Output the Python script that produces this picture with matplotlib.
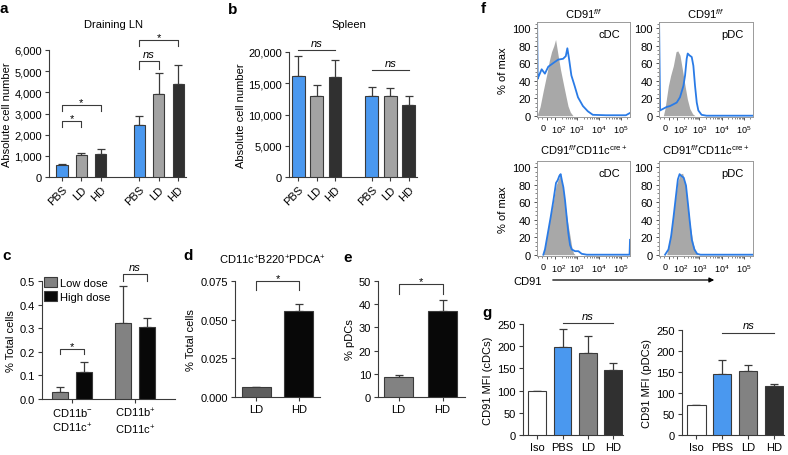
### Import ####

import numpy as np
import matplotlib.pyplot as plt
from matplotlib.ticker import AutoMinorLocator, FixedLocator, NullFormatter
from matplotlib.transforms import ScaledTranslation

plt.rcParams['font.family'] = ['Liberation Sans', 'DejaVu Sans']
plt.rcParams['font.size'] = 8
plt.rcParams['mathtext.fontset'] = 'custom'
plt.rcParams['mathtext.rm'] = 'Liberation Sans'
plt.rcParams['mathtext.it'] = 'Liberation Sans:italic'
plt.rcParams['mathtext.bf'] = 'Liberation Sans:bold'

### Data ###

# a : draining LN
a_labels = ['PBS', 'LD', 'HD', 'PBS', 'LD', 'HD']
a_means = [560, 1020, 1110, 2450, 3900, 4380]
a_errs = [60, 120, 220, 430, 1000, 900]

# b : spleen
b_labels = ['PBS', 'LD', 'HD', 'PBS', 'LD', 'HD']
b_means = [16200, 13000, 16000, 13000, 13000, 11500]
b_errs = [3100, 1750, 2650, 1450, 1200, 1500]

# c : low vs high dose
c_groups = ['CD11b$^{-}$\nCD11c$^{+}$', 'CD11b$^{+}$\nCD11c$^{+}$']
c_low = [0.031, 0.322]
c_low_err = [0.018, 0.155]
c_high = [0.113, 0.305]
c_high_err = [0.045, 0.04]

# d : CD11c+B220+PDCA+
d_labels = ['LD', 'HD']
d_means = [0.0063, 0.0553]
d_errs = [0.0003, 0.005]

# e : % pDCs
e_labels = ['LD', 'HD']
e_means = [8.6, 37.0]
e_errs = [0.8, 5.0]

# f : histograms (CD91 intensity, % of max)
tl_gray_x = [-105, -77, -40, 8, 30, 58, 85, 105, 137, 175, 231, 307, 388, 495, 660]
tl_gray_y = [2, 10, 28, 50, 62, 73, 80, 87, 69, 53, 38, 23, 11, 4, 0]
tl_blue_x = [-112, -111, -104, -97, -58, -20, 20, 77, 137, 231, 307, 362, 432, 552, 778,
             1107, 1862, 3126, 5260, 21130, 170000, 257000]
tl_blue_y = [0, 110, 42, 44, 53, 48, 56, 60, 64, 65, 68, 77, 65, 46, 34, 21, 11, 5, 1, 0.5, 0.5, 3]

tr_gray_x = [-62, -43, -4, 23, 54, 85, 105, 132, 169, 224, 284, 368, 495, 632]
tr_gray_y = [0, 8, 34, 46, 57, 73, 74, 69, 53, 34, 19, 8, 2, 0]
tr_blue_x = [-112, -111, -100, -62, -23, 15, 54, 93, 132, 188, 224, 265, 295, 351, 448, 531,
             632, 755, 891, 1247, 2084, 195000, 262000]
tr_blue_y = [0, 108, 6, 8, 10, 11, 13, 15, 21, 34, 46, 65, 71, 69, 67, 57, 34, 15, 6, 1, 0, 0, 0]

bl_gray_x = [-38, 1, 33, 60, 87, 110, 140, 167, 199, 284, 362, 481, 574, 685, 817]
bl_gray_y = [0, 21, 39, 51, 65, 79, 86, 90, 84, 58, 39, 21, 9, 2, 0]
bl_blue_x = [-38, -19, 21, 48, 80, 110, 131, 156, 179, 207, 238, 284, 338, 404, 481, 574,
             817, 1151, 1637, 2780, 250000, 262000]
bl_blue_y = [0, 6, 28, 43, 62, 82, 85, 90, 92, 84, 77, 62, 43, 24, 11, 6, 4, 4, 1, 0, 0, 17]

br_gray_x = [-23, 17, 44, 75, 106, 136, 174, 231, 295, 388, 515, 659, 841]
br_gray_y = [0, 21, 39, 62, 84, 92, 93, 80, 58, 32, 13, 4, 0]
br_blue_x = [-42, -3, 28, 56, 83, 106, 127, 151, 194, 247, 303, 362, 452, 592, 785, 1117,
             215000, 262000]
br_blue_y = [0, 6, 21, 43, 66, 86, 92, 90, 88, 79, 58, 39, 17, 6, 1, 0, 0, 0]

# g : CD91 MFI
g_labels = ['Iso', 'PBS', 'LD', 'HD']
g_cdc = [100, 199, 184, 146]
g_cdc_err = [0, 40, 40, 17]
g_pdc = [72, 146, 153, 116]
g_pdc_err = [0, 32, 14, 5]

### Style ###

W, H = 788, 456
BLUE = '#4a98ef'
LIGHT = '#a3a3a3'
MID = '#828282'
DARK = '#303030'
BLACK = '#080808'
EDGE = '#3a3a3a'
FLOW_BLUE = '#2a7be6'
FLOW_GRAY = '#a8a8a8'


def px_axes(fig, x0, y0, x1, y1):
    """Add an axes from a pixel box (top-left origin)"""
    return fig.add_axes([x0 / W, 1 - y1 / H, (x1 - x0) / W, (y1 - y0) / H])


def fig_text(fig, x, y, s, **kw):
    fig.text(x / W, 1 - y / H, s, **kw)


def bar_style(ax):
    for s in ['top', 'right']:
        ax.spines[s].set_visible(False)
    for s in ['left', 'bottom']:
        ax.spines[s].set_color(EDGE)
        ax.spines[s].set_linewidth(0.8)
    ax.tick_params(direction='out', length=3, width=0.8, color=EDGE, pad=2)


def bars(ax, x, h, err, colors, width):
    ax.bar(x, h, width, color=colors, edgecolor=EDGE, linewidth=0.8, zorder=3)
    ax.errorbar(x, h, yerr=[np.zeros(len(h)), err], fmt='none', ecolor=EDGE,
                elinewidth=0.9, capsize=3, capthick=0.9, zorder=2)


def bracket(ax, x0, x1, y, drop, text, off, italic=False):
    ax.plot([x0, x0, x1, x1], [y - drop, y, y, y - drop], color=EDGE, lw=0.8, clip_on=False)
    ax.annotate(text, xy=((x0 + x1) / 2, y), xytext=(0, off), textcoords='offset points',
                ha='center', va='baseline', fontsize=8,
                style='italic' if italic else 'normal', annotation_clip=False)


fig = plt.figure(figsize=(W / 100, H / 100), dpi=100)

### a ###
ax = px_axes(fig, 49, 51, 186, 178)
xa = np.r_[0:3, 4:7]
bars(ax, xa, a_means, a_errs, [BLUE, LIGHT, DARK] * 2, 0.58)
ax.set_xlim(-0.67, 6.4)
ax.set_ylim(0, 6000)
ax.set_yticks(range(0, 6001, 1000), ['{:,}'.format(v) for v in range(0, 6001, 1000)])
ax.set_xticks(xa, a_labels, rotation=45, ha='right', rotation_mode='anchor')
ax.set_ylabel('Absolute cell number', labelpad=2)
bar_style(ax)
bracket(ax, 0, 1, 2660, 300, '*', 0)
bracket(ax, 0, 2, 3400, 300, '*', 0)
bracket(ax, 4, 5, 5500, 400, 'ns', 2.5, italic=True)
bracket(ax, 4, 6, 6490, 320, '*', 0)
fig_text(fig, 113, 28, 'Draining LN', ha='center', va='baseline', fontsize=8)

### b ###
ax = px_axes(fig, 289, 53, 417, 178)
bars(ax, xa, b_means, b_errs, [BLUE, LIGHT, DARK] * 2, 0.7)
ax.set_xlim(-0.5, 6.45)
ax.set_ylim(0, 20000)
ax.set_yticks(range(0, 20001, 5000), ['{:,}'.format(v) for v in range(0, 20001, 5000)])
ax.set_xticks(xa, b_labels, rotation=45, ha='right', rotation_mode='anchor')
ax.set_ylabel('Absolute cell number', labelpad=2)
bar_style(ax)
bracket(ax, 0, 2, 20300, 0, 'ns', 3, italic=True)
bracket(ax, 4, 6, 17100, 0, 'ns', 3, italic=True)
fig_text(fig, 349, 28, 'Spleen', ha='center', va='baseline', fontsize=8)

### c ###
ax = px_axes(fig, 42, 282, 175, 400)
xc = np.array([0, 2.625])
ax.bar(xc - 0.5, c_low, 0.67, color=MID, edgecolor=EDGE, linewidth=0.8, zorder=3, label='Low dose')
ax.bar(xc + 0.5, c_high, 0.67, color=BLACK, edgecolor=EDGE, linewidth=0.8, zorder=3, label='High dose')
ax.errorbar(xc - 0.5, c_low, yerr=[[0, 0], c_low_err], fmt='none', ecolor=EDGE,
            elinewidth=0.9, capsize=3, capthick=0.9, zorder=2)
ax.errorbar(xc + 0.5, c_high, yerr=[[0, 0], c_high_err], fmt='none', ecolor=EDGE,
            elinewidth=0.9, capsize=3, capthick=0.9, zorder=2)
ax.set_xlim(-1.25, 4.29)
ax.set_ylim(0, 0.5)
ax.set_yticks(np.arange(0, 0.51, 0.1), ['%.1f' % v for v in np.arange(0, 0.51, 0.1)])
ax.set_xticks(xc, c_groups, linespacing=1.3)
ax.set_ylabel('% Total cells', labelpad=3)
bar_style(ax)
bracket(ax, -0.5, 0.5, 0.212, 0.02, '*', 0)
bracket(ax, 2.125, 3.125, 0.53, 0.03, 'ns', 2.5, italic=True)
ax.legend(loc='upper left', bbox_to_anchor=(-0.02, 1.07), frameon=False, fontsize=8,
          handlelength=1.2, handleheight=1.0, handletextpad=0.3, labelspacing=0.25,
          borderaxespad=0)

### d ###
ax = px_axes(fig, 235, 282, 320, 398)
bars(ax, [0, 1], d_means, d_errs, ['#5e5e5e', BLACK], 0.68)
ax.set_xlim(-0.5, 1.5)
ax.set_ylim(0, 0.075)
ax.set_yticks([0, 0.025, 0.05, 0.075], ['0.000', '0.025', '0.050', '0.075'])
ax.set_xticks([0, 1], d_labels)
ax.set_ylabel('% Total cells', labelpad=3)
bar_style(ax)
bracket(ax, 0, 1, 0.075, 0.006, '*', 0)
fig_text(fig, 273, 265, 'CD11c$^{+}$B220$^{+}$PDCA$^{+}$', ha='center', va='baseline', fontsize=8)

### e ###
ax = px_axes(fig, 378, 282, 465, 398)
bars(ax, [0, 1], e_means, e_errs, [MID, BLACK], 0.66)
ax.set_xlim(-0.47, 1.51)
ax.set_ylim(0, 50)
ax.set_yticks(range(0, 51, 10))
ax.set_xticks([0, 1], e_labels)
ax.set_ylabel('% pDCs', labelpad=3)
bar_style(ax)
bracket(ax, 0, 1, 48.5, 4, '*', 0)

### f ###
flow_minor = [k * 10 ** e for e in range(2, 6) for k in range(2, 10) if k * 10 ** e < 262144]
flow_minor += [-100, -50, 50]


def flow_axes(box, gx, gy, bx, by, title, tag, title_y, ylabel):
    ax = px_axes(fig, *box)
    ax.set_xscale('symlog', linthresh=100, linscale=0.35)
    ax.fill_between(gx, gy, color=FLOW_GRAY, lw=0, zorder=1)
    ax.plot(bx, by, color=FLOW_BLUE, lw=1.3, zorder=2)
    ax.set_xlim(-112, 262144)
    ax.set_ylim(-1.5, 107)
    ax.set_xticks([0, 100, 1000, 10000, 100000],
                  ['0', '10$^2$', '10$^3$', '10$^4$', '10$^5$'], fontsize=6.5)
    ax.xaxis.set_minor_locator(FixedLocator(flow_minor))
    ax.xaxis.set_minor_formatter(NullFormatter())
    ax.set_yticks(range(0, 101, 20))
    ax.yaxis.set_minor_locator(AutoMinorLocator(4))
    ax.tick_params(which='major', length=2.5, width=0.7, color='#555555', pad=2)
    ax.tick_params(which='minor', length=1.5, width=0.5, color='#555555')
    # nudge the "0" and "10^2" labels apart, as in the reference
    for tick, dx in zip(ax.xaxis.get_major_ticks()[:2], [-2.8, 2.6]):
        lbl = tick.label1
        lbl.set_transform(lbl.get_transform() + ScaledTranslation(dx / 72, 0, fig.dpi_scale_trans))
    for s in ax.spines.values():
        s.set_color('#9a9a9a')
        s.set_linewidth(0.7)
    if ylabel:
        ax.set_ylabel('% of max', labelpad=3)
    cx = (box[0] + box[2]) / 2
    fig_text(fig, cx, title_y, title, ha='center', va='baseline', fontsize=8)
    ax.text(0.9, 0.84, tag, transform=ax.transAxes, ha='right', va='baseline', fontsize=8)
    return ax


top_title = 'CD91$^{\\mathit{f/f}}$'
bot_title = 'CD91$^{\\mathit{f/f}}$CD11c$^{\\mathrm{cre+}}$'
flow_axes((537, 23, 630, 118), tl_gray_x, tl_gray_y, tl_blue_x, tl_blue_y, top_title, 'cDC', 19, True)
flow_axes((659, 23, 753, 118), tr_gray_x, tr_gray_y, tr_blue_x, tr_blue_y, top_title, 'pDC', 19, False)
ax_bl = flow_axes((537, 162, 630, 257), bl_gray_x, bl_gray_y, bl_blue_x, bl_blue_y, bot_title, 'cDC', 155, True)
flow_axes((659, 162, 753, 257), br_gray_x, br_gray_y, br_blue_x, br_blue_y, bot_title, 'pDC', 155, False)

fig_text(fig, 513, 285, 'CD91', ha='left', va='baseline', fontsize=8)
ax_bl.annotate('', xy=(717 / W, 1 - 281 / H), xytext=(550 / W, 1 - 281 / H),
               xycoords='figure fraction', textcoords='figure fraction',
               arrowprops=dict(arrowstyle='-|>', lw=0.9, color='black', mutation_scale=7))

### g ###
for box, vals, errs, ylab, ns_y in [((523, 325, 623, 436), g_cdc, g_cdc_err, 'CD91 MFI (cDCs)', 252),
                                     ((682, 331, 784, 436), g_pdc, g_pdc_err, 'CD91 MFI (pDCs)', 244)]:
    ax = px_axes(fig, *box)
    bars(ax, range(4), vals, errs, ['white', BLUE, MID, DARK], 0.7)
    ax.set_xlim(-0.56, 3.38)
    ax.set_ylim(0, 250)
    ax.set_yticks(range(0, 251, 50))
    ax.set_xticks(range(4), g_labels)
    ax.set_ylabel(ylab, labelpad=3)
    bar_style(ax)
    bracket(ax, 1, 3, ns_y, 0, 'ns', 3, italic=True)

### Panel letters ###
for x, y, s in [(0, 13, 'a'), (228, 14, 'b'), (2, 260, 'c'), (183, 260, 'd'),
                (343, 262, 'e'), (481, 13, 'f'), (482, 317, 'g')]:
    fig_text(fig, x, y, s, ha='left', va='baseline', fontsize=11, fontweight='bold')

fig.savefig('out.png', dpi=100)
